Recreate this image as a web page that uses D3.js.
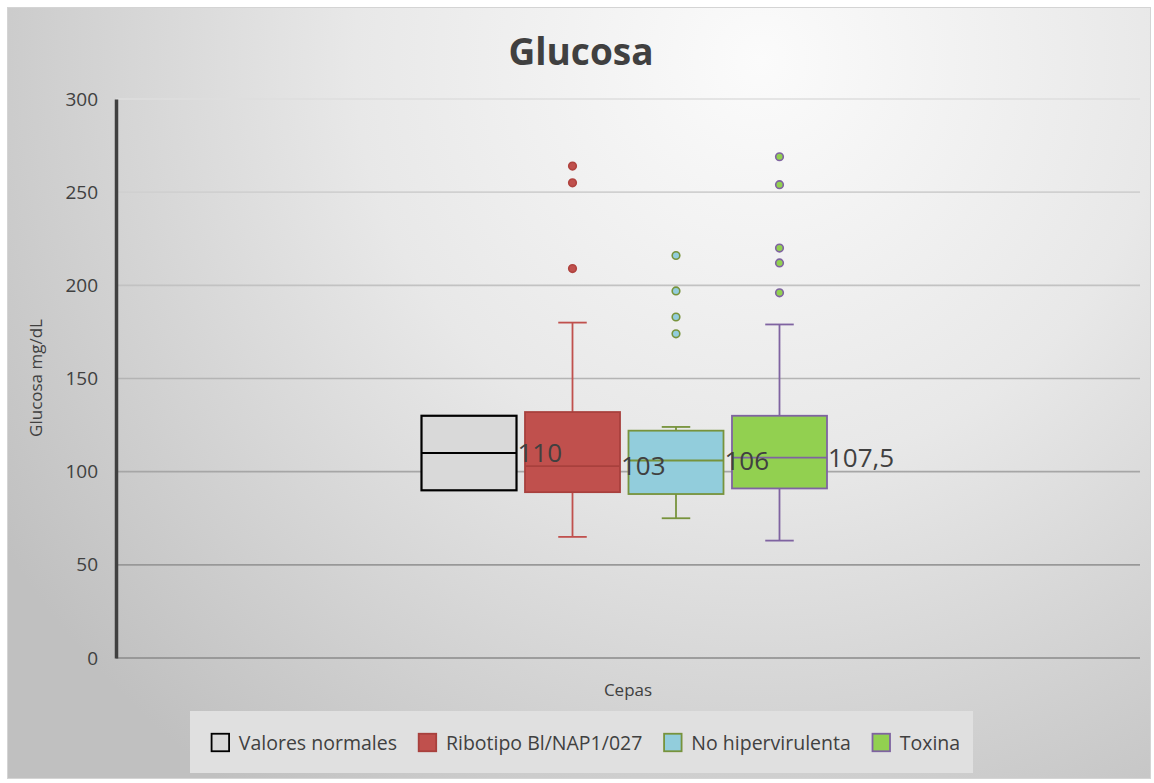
<!DOCTYPE html>
<html>
<head>
<meta charset="utf-8">
<script src="https://cdn.jsdelivr.net/npm/d3@7"></script>
<style>
  body { margin: 0; background: #fff; }
  text { font-family: "Open Sans", sans-serif; }
</style>
</head>
<body>
<div id="chart"></div>
<script>
// chart values
const series = ["Valores normales", "Ribotipo Bl/NAP1/027", "No hipervirulenta", "Toxina"];
const q1 = [90, 89, 88, 91];
const medians = [110, 103, 106, 107.5];
const q3 = [130, 132, 122, 130];
const whiskerLow = [null, 65, 75, 63];
const whiskerHigh = [null, 180, 124, 179];
const outliers = [[], [264, 255, 209], [216, 197, 183, 174], [269, 254, 220, 212, 196]];
const medianLabels = ["110", "103", "106", "107,5"];
const yTicks = [0, 50, 100, 150, 200, 250, 300];

const fills = ["#d9d9d9", "#c0504d", "#92cddc", "#92d050"];
const strokes = ["#000000", "#a8403d", "#77933c", "#7f63a1"];
const whiskerColors = ["#000000", "#c0504d", "#77933c", "#7f63a1"];

const W = 1154, H = 783;

const svg = d3.select("#chart").append("svg")
    .attr("width", W)
    .attr("height", H);

let defs = svg.append("defs");
let grad = defs.append("radialGradient")
    .attr("id", "bg")
    .attr("gradientUnits", "userSpaceOnUse")
    .attr("cx", 760).attr("cy", 60).attr("r", 900);
grad.append("stop").attr("offset", "0%").attr("stop-color", "#fbfbfb");
grad.append("stop").attr("offset", "45%").attr("stop-color", "#e8e8e8");
grad.append("stop").attr("offset", "100%").attr("stop-color", "#c0c0c0");

svg.append("rect")
    .attr("x", 7.5).attr("y", 7.5)
    .attr("width", 1143).attr("height", 771)
    .attr("fill", "url(#bg)")
    .attr("stroke", "#d4d4d4");

let y = d3.scaleLinear().domain([0, 300]).range([658, 99]);
let x = d3.scaleBand().domain(series).range([421.5, 827]).paddingInner(0.082);

let gridColor = d3.scaleLinear().domain([0, 300]).range(["#8a8a8a", "#dedede"]);

// gridlines
svg.append("g").selectAll("line")
    .data(yTicks)
    .join("line")
    .attr("x1", 116).attr("x2", 1140)
    .attr("y1", d => y(d)).attr("y2", d => y(d))
    .attr("stroke", d => gridColor(d))
    .attr("stroke-width", 1.6);

// y axis
let yAxis = svg.append("g")
    .attr("transform", "translate(116,0)")
    .call(d3.axisLeft(y).tickValues(yTicks).tickSize(0).tickPadding(18));
yAxis.select(".domain").attr("stroke", "#404040").attr("stroke-width", 3.5);
yAxis.selectAll("text")
    .style("font-size", "19px")
    .attr("fill", "#404040");

svg.append("text")
    .attr("transform", "translate(42,378) rotate(-90)")
    .attr("text-anchor", "middle")
    .style("font-size", "17px")
    .attr("fill", "#404040")
    .text("Glucosa mg/dL");

svg.append("text")
    .attr("x", 628).attr("y", 696)
    .attr("text-anchor", "middle")
    .style("font-size", "17px")
    .attr("fill", "#404040")
    .text("Cepas");

svg.append("text")
    .attr("x", 581).attr("y", 65)
    .attr("text-anchor", "middle")
    .style("font-size", "37px")
    .style("font-weight", "bold")
    .attr("fill", "#404040")
    .text("Glucosa");

// boxes
let bw = x.bandwidth();
let capW = bw * 0.3;
let boxes = svg.append("g").selectAll("g")
    .data(series)
    .join("g");

boxes.each(function (s, i) {
    let g = d3.select(this);
    let cx = x(s) + bw / 2;
    if (whiskerHigh[i] != null) {
        g.append("line")
            .attr("x1", cx).attr("x2", cx)
            .attr("y1", y(q3[i])).attr("y2", y(whiskerHigh[i]))
            .attr("stroke", whiskerColors[i]).attr("stroke-width", 1.8);
        g.append("line")
            .attr("x1", cx - capW / 2).attr("x2", cx + capW / 2)
            .attr("y1", y(whiskerHigh[i])).attr("y2", y(whiskerHigh[i]))
            .attr("stroke", whiskerColors[i]).attr("stroke-width", 1.8);
    }
    if (whiskerLow[i] != null) {
        g.append("line")
            .attr("x1", cx).attr("x2", cx)
            .attr("y1", y(q1[i])).attr("y2", y(whiskerLow[i]))
            .attr("stroke", whiskerColors[i]).attr("stroke-width", 1.8);
        g.append("line")
            .attr("x1", cx - capW / 2).attr("x2", cx + capW / 2)
            .attr("y1", y(whiskerLow[i])).attr("y2", y(whiskerLow[i]))
            .attr("stroke", whiskerColors[i]).attr("stroke-width", 1.8);
    }
    g.append("rect")
        .attr("x", x(s)).attr("width", bw)
        .attr("y", y(q3[i])).attr("height", y(q1[i]) - y(q3[i]))
        .attr("fill", fills[i])
        .attr("stroke", strokes[i])
        .attr("stroke-width", i == 0 ? 2.2 : 1.8);
    g.append("line")
        .attr("x1", x(s)).attr("x2", x(s) + bw)
        .attr("y1", y(medians[i])).attr("y2", y(medians[i]))
        .attr("stroke", strokes[i])
        .attr("stroke-width", i == 0 ? 2 : 1.8);
    g.selectAll("circle")
        .data(outliers[i])
        .join("circle")
        .attr("cx", cx)
        .attr("cy", d => y(d))
        .attr("r", 3.8)
        .attr("fill", fills[i])
        .attr("stroke", i == 1 ? "#b0433f" : strokes[i])
        .attr("stroke-width", 1.6);
});

// median labels on top of all boxes
svg.append("g").selectAll("text")
    .data(series)
    .join("text")
    .attr("x", d => x(d) + bw + 1)
    .attr("y", (d, i) => y(medians[i]))
    .attr("dy", "0.36em")
    .style("font-size", "26px")
    .attr("fill", "#404040")
    .text((d, i) => medianLabels[i]);

// legend
let legend = svg.append("g");
legend.append("rect")
    .attr("x", 190).attr("y", 711)
    .attr("width", 783).attr("height", 62)
    .attr("fill", "#e0e0e0");

let items = legend.append("g");
let lx = 0;
series.forEach((s, i) => {
    let it = items.append("g").attr("transform", "translate(" + lx + ",0)");
    it.append("rect")
        .attr("x", 0.75).attr("y", 733.75)
        .attr("width", 17.5).attr("height", 17.5)
        .attr("fill", fills[i])
        .attr("stroke", strokes[i])
        .attr("stroke-width", 1.8);
    let t = it.append("text")
        .attr("x", 28).attr("y", 743)
        .attr("dy", "0.35em")
        .style("font-size", "19.5px")
        .attr("fill", "#404040")
        .text(s);
    lx += 28 + t.node().getComputedTextLength() + 21;
});
let total = lx - 21;
items.attr("transform", "translate(" + (585.5 - total / 2) + ",0)");
</script>
</body>
</html>
